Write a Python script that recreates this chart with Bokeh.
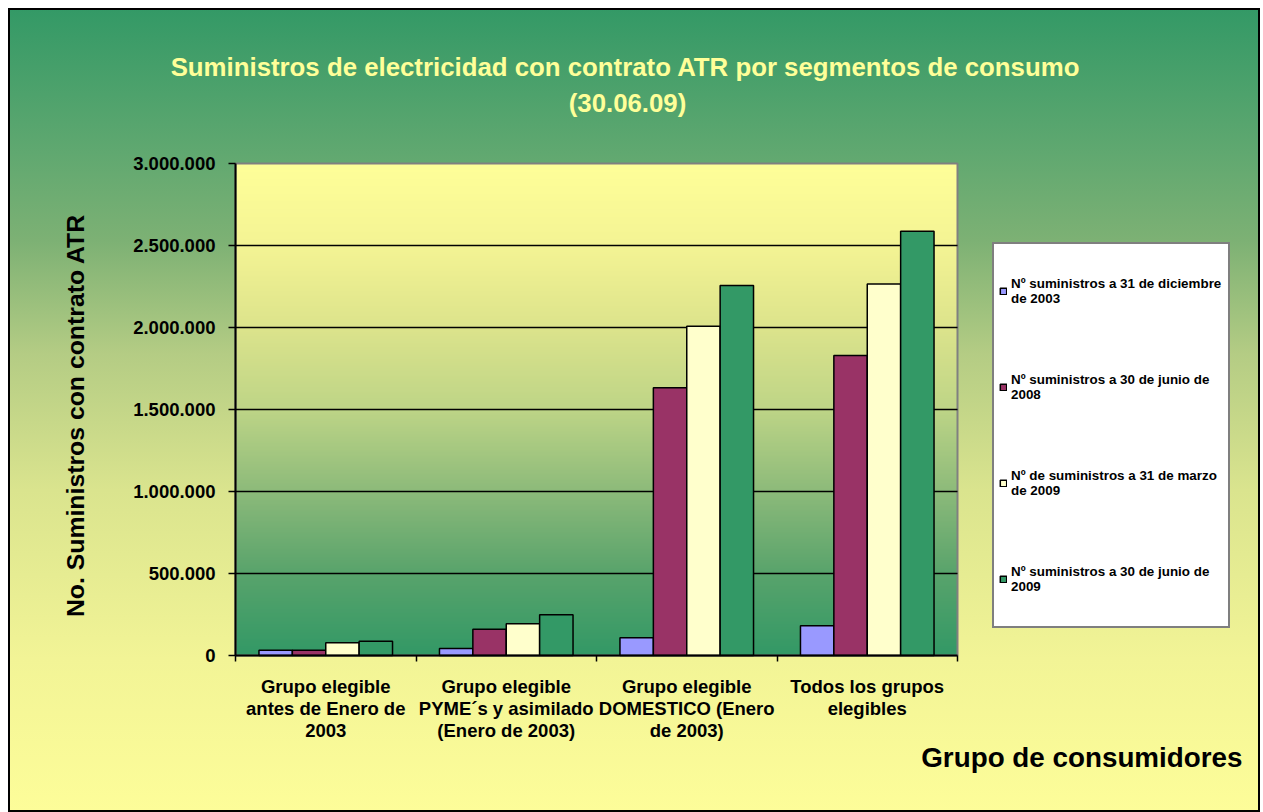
import numpy as np
from bokeh.plotting import figure
from bokeh.models import (ColumnDataSource, FixedTicker, Legend, LegendItem, Label, Range1d)
from bokeh.transform import dodge
from bokeh.embed import file_html
from bokeh.resources import INLINE

# ---------------- data ----------------
categories = [
    "Grupo elegible\nantes de Enero de\n2003",
    "Grupo elegible\nPYME´s y asimilado\n(Enero de 2003)",
    "Grupo elegible\nDOMESTICO (Enero\nde 2003)",
    "Todos los grupos\nelegibles",
]
series_names = [
    "Nº suministros a 31 de diciembre\nde 2003",
    "Nº suministros a 30 de junio de\n2008",
    "Nº de suministros a 31 de marzo\nde 2009",
    "Nº suministros a 30 de junio de\n2009",
]
dic_2003 = [32000, 43000, 108000, 181000]
jun_2008 = [32000, 160000, 1632000, 1829000]
mar_2009 = [77000, 193000, 2008000, 2266000]
jun_2009 = [87000, 248000, 2256000, 2587000]
colors = ["#9999FF", "#993366", "#FFFFCC", "#339966"]

y_ticks = [0, 500000, 1000000, 1500000, 2000000, 2500000, 3000000]
y_tick_labels = ["0", "500.000", "1.000.000", "1.500.000", "2.000.000", "2.500.000", "3.000.000"]

title_lines = ["Suministros de electricidad con contrato ATR por segmentos de consumo", "(30.06.09)"]
y_title = "No. Suministros con contrato ATR"
x_title = "Grupo de consumidores"

FONT = "Liberation Sans"
n = len(categories)
xpos = np.arange(n) + 0.5
ymin, ymax = y_ticks[0], y_ticks[-1]

src = ColumnDataSource(dict(x=xpos, s0=dic_2003, s1=jun_2008, s2=mar_2009, s3=jun_2009))

# ---------------- layout (pixels) ----------------
W, H = 1252, 804
PL, PR, PT, PB = 227, 949, 155, 647          # plot-area edges inside the figure
ux = (PR - PL) / n                          # px per category
uy = (PB - PT) / (ymax - ymin)              # px per unit
x_range = Range1d(-PL / ux, n + (W - PR) / ux)
y_range = Range1d(ymin - (H - PB) / uy, ymax + PT / uy)

p = figure(width=W, height=H, output_backend="svg", toolbar_location=None, title=None,
           x_range=x_range, y_range=y_range, min_border=0)
p.border_fill_alpha = 0
p.background_fill_alpha = 0
p.outline_line_color = None
p.styles = {
    "margin": "8px 0px 0px 8px",
    "background": "linear-gradient(to bottom, #339966 0%, #60a870 18%, #7db174 29%, #b4cc84 43%, #dae48e 60%, #f2f496 81%, #fdfd99 100%)",
    "box-shadow": "inset 0 0 0 2px #000000",
}

# plot-area gradient (decoration)
stops_f = [0.0, 0.17, 0.33, 0.5, 0.67, 0.83, 1.0]
stops_c = [(51, 153, 102), (90, 164, 108), (140, 186, 122), (190, 213, 135), (221, 228, 140), (244, 244, 148), (255, 255, 153)]
N = 400
t = np.linspace(0, 1, N)
rch = np.interp(t, stops_f, [c[0] for c in stops_c]).astype(np.uint32)
gch = np.interp(t, stops_f, [c[1] for c in stops_c]).astype(np.uint32)
bch = np.interp(t, stops_f, [c[2] for c in stops_c]).astype(np.uint32)
img = (np.uint32(255) << np.uint32(24)) | (bch << np.uint32(16)) | (gch << np.uint32(8)) | rch
img = img.reshape(N, 1).astype(np.uint32)
p.image_rgba(image=[img], x=0, y=ymin, dw=n, dh=ymax - ymin)

# plot-area outline and horizontal grid lines
p.quad(left=0, right=n, bottom=ymin, top=ymax, fill_alpha=0, line_color="#808080", line_width=2)
p.segment(x0=0, x1=n, y0=y_ticks[1:-1], y1=y_ticks[1:-1], line_color="black", line_width=1.5)

# bars
bw = 0.185
offsets = [-1.5 * bw, -0.5 * bw, 0.5 * bw, 1.5 * bw]
renderers = []
for i in range(4):
    r = p.vbar(x=dodge("x", offsets[i], range=p.x_range), top="s%d" % i, width=bw, bottom=0,
               source=src, fill_color=colors[i], line_color="black", line_width=1.5)
    renderers.append(r)

p.xgrid.visible = False
p.ygrid.visible = False

# y axis (drawn at x = 0)
ya = p.yaxis[0]
ya.fixed_location = 0
ya.bounds = (ymin, ymax)
ya.ticker = FixedTicker(ticks=y_ticks)
ya.major_label_overrides = {v: l for v, l in zip(y_ticks, y_tick_labels)}
ya.axis_line_width = 2
ya.axis_line_color = "black"
ya.major_tick_out = 7
ya.major_tick_in = 0
ya.major_tick_line_width = 1.5
ya.minor_tick_line_color = None
ya.major_label_standoff = 13
ya.major_label_text_font = FONT
ya.major_label_text_font_style = "bold"
ya.major_label_text_font_size = "18.5px"
ya.major_label_text_color = "black"

# x axis (drawn at y = 0)
xa = p.xaxis[0]
xa.fixed_location = 0
xa.bounds = (0, n)
xa.ticker = FixedTicker(ticks=list(xpos), minor_ticks=list(range(n + 1)))
xa.major_label_overrides = {float(v): c for v, c in zip(xpos, categories)}
xa.axis_line_width = 2
xa.axis_line_color = "black"
xa.major_tick_out = 0
xa.major_tick_in = 0
xa.minor_tick_out = 6
xa.minor_tick_in = 0
xa.minor_tick_line_width = 1.5
xa.minor_tick_line_color = "black"
xa.major_label_standoff = 14
xa.major_label_orientation = "horizontal"
xa.major_label_text_font = FONT
xa.major_label_text_font_style = "bold"
xa.major_label_text_font_size = "18.5px"
xa.major_label_text_color = "black"
xa.major_label_text_line_height = 1.07

# texts (screen px from the figure's bottom-left)
def add_text(x, y, text, size, color, align="center", angle=0.0):
    p.add_layout(Label(x=x, y=y, x_units="screen", y_units="screen", text=text, angle=angle,
                       text_align=align, text_baseline="middle", text_font=FONT,
                       text_font_style="bold", text_font_size=size, text_color=color))

add_text(617, 746, title_lines[0], "25.8px", "#FFFF99")
add_text(619, 710, title_lines[1], "25.8px", "#FFFF99")
add_text(67, 397, y_title, "24.8px", "black", angle=np.pi / 2)
add_text(1234, 55, x_title, "27.8px", "black", align="right")

# legend
legend = Legend(items=[LegendItem(label=series_names[i], renderers=[renderers[i]]) for i in range(4)],
                location=(984, 184), orientation="vertical",
                glyph_width=8, glyph_height=8, label_standoff=4, label_width=212,
                label_height=84, spacing=12, padding=5, margin=0,
                label_text_font=FONT, label_text_font_style="bold", label_text_font_size="13.4px",
                label_text_color="black", label_text_line_height=1.4,
                border_line_color="black", border_line_width=2,
                background_fill_color="white", background_fill_alpha=1)
p.add_layout(legend, "center")

open("out.html", "w").write(file_html(p, INLINE))
